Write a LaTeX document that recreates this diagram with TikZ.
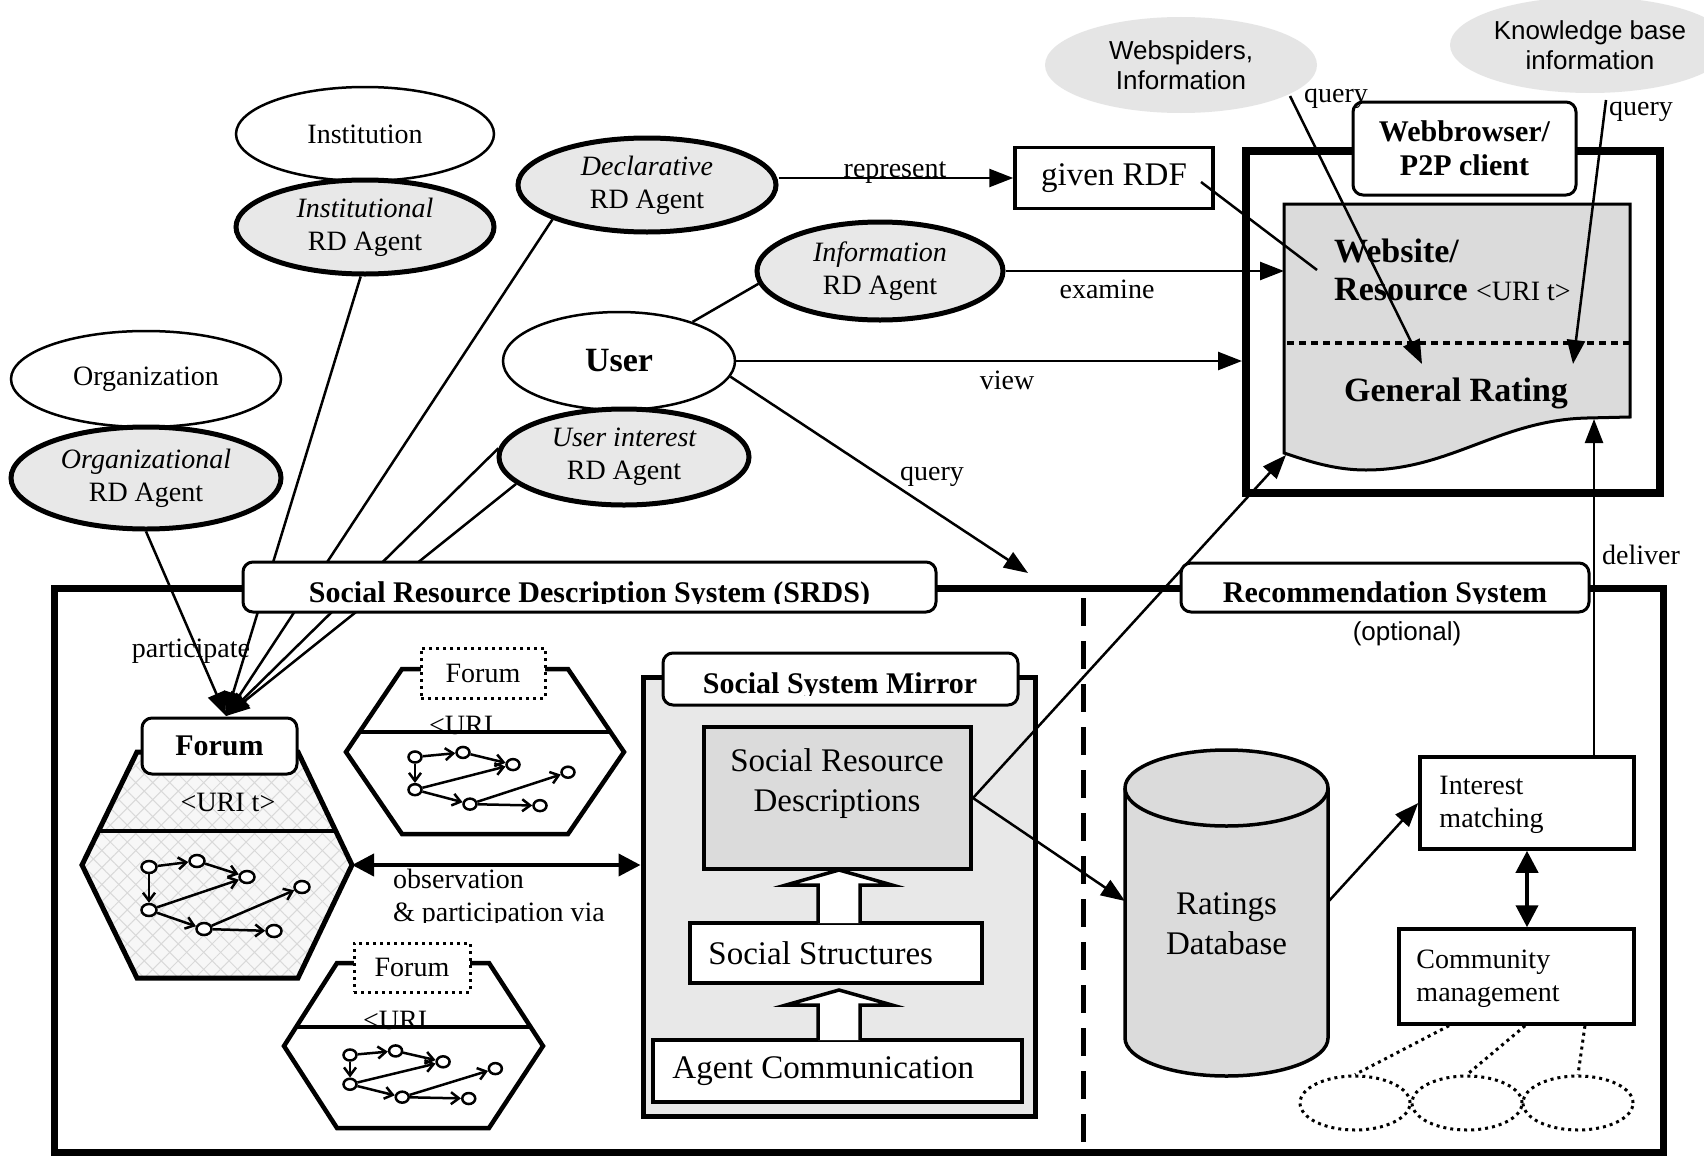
\documentclass[tikz,border=0pt]{standalone}
\usepackage{fontspec}
\setmainfont{Liberation Serif}
\setsansfont{Liberation Sans}
\usetikzlibrary{shapes.geometric,arrows.meta,patterns.meta,calc}

\definecolor{agentgrey}{gray}{0.91}
\definecolor{cloudgrey}{gray}{0.90}
\definecolor{docgrey}{gray}{0.86}
\definecolor{mirrorgrey}{gray}{0.91}

\newcommand\fLabel{\fontsize{28}{33}\selectfont}
\newcommand\fHead{\fontsize{30}{34}\selectfont\bfseries}
\newcommand\fBig{\fontsize{33}{40}\selectfont}
\newcommand\fBigBold{\fontsize{34}{38}\selectfont\bfseries}
\newcommand\fCloud{\fontsize{26}{30}\selectfont\sffamily}

\tikzset{
  plainell/.style={ellipse, draw, line width=2.5pt, fill=white, inner sep=0pt, align=center, font=\fLabel},
  agentell/.style={ellipse, draw, line width=5pt, fill=agentgrey, inner sep=0pt, align=center, font=\fLabel},
  cloudell/.style={ellipse, fill=cloudgrey, inner sep=0pt, align=center, font=\fCloud},
  boxnode/.style={rectangle, draw, line width=3.5pt, fill=white, inner sep=0pt},
  tagnode/.style={rectangle, rounded corners=10pt, draw, line width=3pt, fill=white, inner sep=0pt},
  conn/.style={line width=2.5pt},
  arr/.style={line width=2.5pt, -{Triangle[length=24pt,width=18pt]}},
  dblarr/.style={line width=4pt, {Triangle[length=22pt,width=22pt]}-{Triangle[length=22pt,width=22pt]}},
  dotline/.style={line width=3pt, dash pattern=on 3pt off 4pt},
  hexline/.style={line width=4.5pt, line join=miter},
  gnode/.style={ellipse, draw, line width=2.5pt, fill=white, inner sep=0pt, minimum width=15pt, minimum height=12pt},
  garr/.style={line width=2.5pt, -{Straight Barb[length=8pt,width=12pt]}},
  hollowarr/.style={line width=3.5pt, fill=white, line join=miter},
  fgraph/.pic={
    \node[gnode] (-a) at (0,0) {};
    \node[gnode] (-b) at (48,-6) {};
    \node[gnode] (-c) at (98,10) {};
    \node[gnode] (-d) at (0,43) {};
    \node[gnode] (-e) at (55,62) {};
    \node[gnode] (-f) at (153,20) {};
    \node[gnode] (-g) at (125,64) {};
    \draw[garr] (-a) -- (-b);
    \draw[garr] (-a) -- (-d);
    \draw[garr] (-b) -- (-c);
    \draw[garr] (-d) -- (-c);
    \draw[garr] (-d) -- (-e);
    \draw[garr] (-e) -- (-f);
    \draw[garr] (-e) -- (-g);
  }
}

\begin{document}
\begin{tikzpicture}[x=1pt, y=-1pt]
\useasboundingbox (0,0) rectangle (1704,1156);
\fill[white] (0,0) rectangle (1704,1156);

% ---------- information sources ----------
\node[cloudell, minimum width=272pt, minimum height=96pt] (spider) at (1181,65) {Webspiders,\\Information};
\node[cloudell, minimum width=280pt, minimum height=96pt] (kb) at (1590,45) {Knowledge base\\information};

% ---------- browser / client ----------
\node[draw, line width=8pt, minimum width=414pt, minimum height=342pt, inner sep=0pt] (frame) at (1453,322) {};
\node[tagnode, minimum width=223pt, minimum height=93pt, font=\fHead, align=center] (client) at (1464.5,148.5) {Webbrowser/\\P2P client};

% resource page
\draw[line width=3pt, fill=docgrey] (1284,204) -- (1630,204) -- (1630,417) -- (1587,418)
  .. controls (1500,420) and (1450,470) .. (1366,470)
  .. controls (1330,470) and (1300,458) .. (1284,453) -- cycle;
\draw[line width=4.5pt, dash pattern=on 7pt off 5pt] (1287,343) -- (1631,343);
\coordinate (docL) at (1284,271);
\coordinate (docBL) at (1286,455);
\coordinate (docBR) at (1594,419);
\node[anchor=base west, font=\fBigBold, inner sep=0pt] (wsA) at (1334,262) {Website/};
\node[anchor=base west, font=\fBigBold, inner sep=0pt] (wsB) at (1334,300) {Resource {\mdseries\fLabel <URI t>}};
\node[font=\fBigBold] (rating) at (1456,393) {General Rating};

\node[boxnode, minimum width=198pt, minimum height=61pt, font=\fBig] (rdf) at (1114,178) {given RDF};

% ---------- actors and agents ----------
\node[plainell, minimum width=258pt, minimum height=94pt] (institution) at (365,134) {Institution};
\node[agentell, minimum width=258pt, minimum height=94pt] (inst) at (365,227) {{\itshape Institutional}\\RD Agent};
\node[plainell, minimum width=270pt, minimum height=96pt] (organization) at (146,379) {Organization};
\node[agentell, minimum width=270pt, minimum height=102pt] (org) at (146,478) {{\itshape Organizational}\\RD Agent};
\node[agentell, minimum width=258pt, minimum height=94pt] (decl) at (647,185) {{\itshape Declarative}\\RD Agent};
\node[agentell, minimum width=246pt, minimum height=98pt] (info) at (880,271) {{\itshape Information}\\RD Agent};
\node[plainell, minimum width=232pt, minimum height=98pt, font=\fBigBold] (user) at (619,361) {User};
\node[agentell, minimum width=250pt, minimum height=96pt] (ui) at (624,457) {{\itshape User interest}\\RD Agent};

% ---------- SRDS frame ----------
\node[draw, line width=7pt, minimum width=1609pt, minimum height=564pt, inner sep=0pt] (srds) at (858.5,870) {};
\coordinate (dtop) at (1083,598);
\coordinate (dbot) at (1083,1150);
\draw[line width=5pt, dash pattern=on 28pt off 15pt] (dtop) -- (dbot);

% main forum
\fill[gray!6] (137,752) -- (298,752) -- (352,865) -- (298,978) -- (137,978) -- (82,865) -- cycle;
\fill[pattern={Lines[angle=45,distance=12pt,line width=1pt]}, pattern color=gray!30]
  (137,752) -- (298,752) -- (352,865) -- (298,978) -- (137,978) -- (82,865) -- cycle;
\fill[pattern={Lines[angle=-45,distance=12pt,line width=1pt]}, pattern color=gray!30]
  (137,752) -- (298,752) -- (352,865) -- (298,978) -- (137,978) -- (82,865) -- cycle;
\draw[hexline, line width=5pt] (137,752) -- (298,752) -- (352,865) -- (298,978) -- (137,978) -- (82,865) -- cycle;
\draw[line width=4pt] (98,831) -- (337,831);
\coordinate (hexR) at (352,865);
\node[tagnode, minimum width=155pt, minimum height=56pt, font=\fHead] (forum) at (219.5,746) {Forum};
\node[font=\fLabel] (uriA) at (228,802) {<URI t>};
\pic (gA) at (149,867) {fgraph};

% upper forum
\draw[hexline] (402,669) -- (568,669) -- (624,752) -- (568,834) -- (402,834) -- (346,752) -- cycle;
\draw[line width=3.5pt] (359,732) -- (611,732);
\node[rectangle, draw, dotline, fill=white, minimum width=124pt, minimum height=50pt, font=\fLabel, inner sep=0pt] (forumB) at (483,673) {Forum};
\node[anchor=base west, font=\fLabel, inner sep=0pt] (uriB) at (429,734) {<URI};
\pic[yscale=0.76, gnode/.append style={minimum width=13pt, minimum height=11pt}] (gB) at (415,757) {fgraph};

% lower forum
\draw[hexline] (337,963) -- (489,963) -- (543,1046) -- (489,1128) -- (337,1128) -- (284,1046) -- cycle;
\draw[line width=3.5pt] (296,1027) -- (531,1027);
\node[rectangle, draw, dotline, fill=white, minimum width=116pt, minimum height=49pt, font=\fLabel, inner sep=0pt] (forumC) at (412,967.5) {Forum};
\node[anchor=base west, font=\fLabel, inner sep=0pt] (uriC) at (363,1029) {<URI};
\pic[xscale=0.95, yscale=0.68, gnode/.append style={minimum width=13pt, minimum height=11pt}] (gC) at (350,1055) {fgraph};

% ---------- social system mirror ----------
\node[draw, line width=5pt, fill=mirrorgrey, minimum width=392pt, minimum height=439pt, inner sep=0pt] (ssm) at (839,896.5) {};
\node[tagnode, minimum width=355pt, minimum height=52pt] (ssmtag) at (840.5,679) {};
\begin{scope}
  \clip (663,653) rectangle (1018,695);
  \node[anchor=base, font=\fHead] (ssmtext) at (840,693) {Social System Mirror};
\end{scope}
\node[boxnode, fill=docgrey, line width=4pt, minimum width=267pt, minimum height=142pt] (srd) at (837.5,798) {};
\node[font=\fBig, align=center] (srdtext) at (837,784) {Social Resource\\Descriptions};
\node[boxnode, minimum width=292pt, minimum height=60pt] (ss) at (836,953) {};
\node[font=\fBig, anchor=west, inner sep=0pt] (sstext) at ($(ss.west)+(20,0)$) {Social Structures};
\node[boxnode, minimum width=369pt, minimum height=62pt] (ac) at (837.5,1071) {};
\node[font=\fBig, anchor=west, inner sep=0pt] (actext) at ($(ac.west)+(21,0)$) {Agent Communication};
\draw[hollowarr] (818,923) -- (818,885) -- (786,885) -- (839,870) -- (892,885) -- (860,885) -- (860,923);
\draw[hollowarr] (818,1040) -- (818,1005) -- (786,1005) -- (839,990) -- (892,1005) -- (860,1005) -- (860,1040);

% ---------- recommendation system ----------
\fill[docgrey] (1125,788) rectangle (1328,1038);
\fill[docgrey] (1226.5,1038) ellipse [x radius=101.5, y radius=38];
\draw[line width=3.5pt] (1125,788) -- (1125,1038) arc[start angle=180, end angle=0, x radius=101.5, y radius=38] -- (1328,788);
\draw[line width=3.5pt, fill=docgrey] (1226.5,788) ellipse [x radius=101.5, y radius=38];
\node[font=\fBig, align=center] (rdb) at (1226.5,924) {Ratings\\Database};
\coordinate (dbL) at (1125,901);
\coordinate (dbR) at (1328,902);

\node[boxnode, minimum width=214pt, minimum height=92pt] (im) at (1527,803) {};
\node[font=\fLabel, align=left, anchor=west, inner sep=0pt] (imtext) at ($(im.west)+(21,2)$) {Interest\\matching};
\node[boxnode, minimum width=235pt, minimum height=95pt] (cm) at (1516.5,976.5) {};
\node[font=\fLabel, align=left, anchor=west, inner sep=0pt] (cmtext) at ($(cm.west)+(19,2)$) {Community\\management};

\node[ellipse, draw, dotline, minimum width=110pt, minimum height=54pt] (ce1) at (1355,1103) {};
\node[ellipse, draw, dotline, minimum width=110pt, minimum height=54pt] (ce2) at (1467,1103) {};
\node[ellipse, draw, dotline, minimum width=110pt, minimum height=54pt] (ce3) at (1578,1103) {};
\draw[dotline] ($(cm.south west)!0.217!(cm.south east)$) -- (ce1.north);
\draw[dotline] ($(cm.south west)!0.536!(cm.south east)$) -- (ce2.north);
\draw[dotline] ($(cm.south west)!0.787!(cm.south east)$) -- (ce3.north);

% ---------- connectors ----------
\coordinate (fanend) at (226,716);
\draw[arr] (org.south) -- (fanend);
\draw[arr] (inst.265) -- (fanend);
\draw[arr] (decl.200) -- (fanend);
\draw[arr] (ui.176) -- (fanend);
\draw[arr] (ui.194) -- (fanend);
\node[font=\fLabel] (lparticipate) at (191,651) {participate};

\draw[arr] (rdf.west -| decl.east) -- (rdf.west);
\node[font=\fLabel] (lrepresent) at (895,173) {represent};
\coordinate (rdfA) at (1201,182);
\coordinate (rdfB) at (1317,270);
\draw[conn] (rdfA) -- (rdfB);

\draw[conn] (user.28) -- (info.186);
\draw[arr] (info.east) -- (docL);
\node[font=\fLabel] (lexamine) at (1107,289) {examine};
\draw[arr] (user.east) -- (user.east -| frame.west);
\node[font=\fLabel] (lview) at (1007,380) {view};
\coordinate (qend) at (1028,573);
\draw[arr] (user.-8) -- (qend);
\node[font=\fLabel] (lquery) at (932,477) {query};

\coordinate (spA) at (1290,96);
\coordinate (spB) at (1422,364);
\draw[arr] (spA) -- (spB);
\node[font=\fLabel] (lqueryA) at (1336,99) {query};
\coordinate (kbA) at (1606,100);
\coordinate (kbB) at (1573,364);
\draw[arr] (kbA) -- (kbB);
\node[font=\fLabel] (lqueryB) at (1641,112) {query};

\draw[arr] (srd.east) -- (docBL);
\draw[arr] (srd.east) -- (dbL);
\draw[arr] (dbR) -- (im.west);
\draw[dblarr] (im.south) -- (im.south |- cm.north);
\draw[arr] (docBR |- im.north) -- (docBR);
\node[font=\fLabel] (ldeliver) at (1641,555) {deliver};

\draw[dblarr] (hexR) -- (hexR -| ssm.west);
\node[anchor=base west, font=\fLabel, inner sep=0pt] (lobs) at (393,888) {observation};
\begin{scope}
  \clip (380,895) rectangle (640,922);
  \node[anchor=base west, font=\fLabel, inner sep=0pt] (lpart) at (393,921) {\& participation via};
\end{scope}

% ---------- frame captions (drawn over the connectors) ----------
\node[tagnode, minimum width=693pt, minimum height=50pt] (srdstag) at (589.5,587) {};
\begin{scope}
  \clip (243,562) rectangle (936,603);
  \node[anchor=base, font=\fHead] (srdstext) at (589.5,602) {Social Resource Description System (SRDS)};
\end{scope}
\node[tagnode, minimum width=408pt, minimum height=49pt] (rstag) at (1385,587.5) {};
\begin{scope}
  \clip (1181,563) rectangle (1589,603);
  \node[anchor=base, font=\fHead] (rstext) at (1385,602) {Recommendation System};
\end{scope}
\node[font=\fCloud] (loptional) at (1407,634) {(optional)};

\end{tikzpicture}
\end{document}
